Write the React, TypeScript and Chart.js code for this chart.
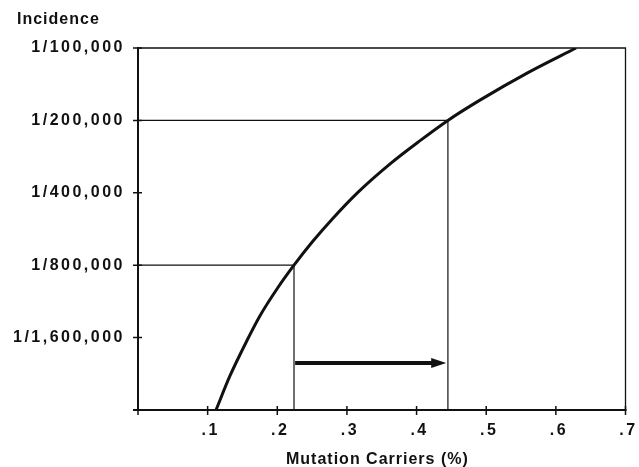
import React, { useEffect, useRef } from "react";
import { Chart, registerables } from "chart.js";

Chart.register(...registerables);

// Curve: mutation carriers (%) vs incidence
const carriers = [0.112, 0.132, 0.157, 0.175, 0.2, 0.224, 0.251, 0.28, 0.315, 0.362, 0.405, 0.445, 0.491, 0.56, 0.629];
const incidence = [3.125e-7, 4.33e-7, 6.12e-7, 7.69e-7, 1.0e-6, 1.25e-6, 1.571e-6, 1.961e-6, 2.5e-6, 3.3e-6, 4.12e-6, 5e-6, 6.07e-6, 7.9e-6, 1e-5];

// Axis ticks
const yTickValues = [1e-5, 5e-6, 2.5e-6, 1.25e-6, 6.25e-7, 3.125e-7];
const yTickLabels = ["1/100,000", "1/200,000", "1/400,000", "1/800,000", "1/1,600,000", ""];
const xTickValues = [0, 0.1, 0.2, 0.3, 0.4, 0.5, 0.6, 0.7];
const xTickLabels = ["", ".1", ".2", ".3", ".4", ".5", ".6", ".7"];
const yMin = 3.125e-7;
const yMax = 1e-5;
const xMin = 0;
const xMax = 0.7;

// Guide lines
const lowCarrier = 0.224;
const lowIncidence = 1.25e-6;
const highCarrier = 0.445;
const highIncidence = 5e-6;

// Arrow
const arrowFrom = 0.2256;
const arrowTo = 0.4425;
const arrowLevel = 4.9e-7;

const yTitle = "Incidence";
const xTitle = "Mutation Carriers (%)";

const FONT = '"Liberation Sans", Arial, Helvetica, sans-serif';
const INK = "#111";

const decor = {
  id: "decor",
  beforeDraw(chart: any) {
    (chart.ctx as any).letterSpacing = "2.5px";
  },
  afterDraw(chart: any) {
    const ctx = chart.ctx;
    const { left, right, top, bottom } = chart.chartArea;
    const xs = chart.scales.x;
    const ys = chart.scales.y;
    ctx.save();
    ctx.strokeStyle = INK;
    ctx.fillStyle = INK;
    // thin top / right frame
    ctx.lineWidth = 1.3;
    ctx.beginPath();
    ctx.moveTo(left, top);
    ctx.lineTo(right, top);
    ctx.lineTo(right, bottom);
    ctx.stroke();
    // thick axes
    ctx.lineWidth = 2;
    ctx.beginPath();
    ctx.moveTo(left, top - 1);
    ctx.lineTo(left, bottom);
    ctx.moveTo(left - 5, bottom);
    ctx.lineTo(right + 1, bottom);
    ctx.stroke();
    // tick marks crossing the axes
    ctx.lineWidth = 1.5;
    ctx.beginPath();
    yTickValues.forEach((v) => {
      const py = ys.getPixelForValue(v);
      ctx.moveTo(left - 5, py);
      ctx.lineTo(left + 4, py);
    });
    xTickValues.forEach((v) => {
      const px = xs.getPixelForValue(v);
      ctx.moveTo(px, bottom - 4);
      ctx.lineTo(px, bottom + 5);
    });
    ctx.stroke();
    // arrow
    const ax0 = xs.getPixelForValue(arrowFrom);
    const ax1 = xs.getPixelForValue(arrowTo);
    const ay = ys.getPixelForValue(arrowLevel);
    ctx.lineWidth = 4;
    ctx.beginPath();
    ctx.moveTo(ax0, ay);
    ctx.lineTo(ax1 - 12, ay);
    ctx.stroke();
    ctx.beginPath();
    ctx.moveTo(ax1, ay);
    ctx.lineTo(ax1 - 15, ay - 5);
    ctx.lineTo(ax1 - 15, ay + 5);
    ctx.closePath();
    ctx.fill();
    // titles
    (ctx as any).letterSpacing = "1px";
    ctx.font = `bold 16px ${FONT}`;
    ctx.textBaseline = "alphabetic";
    ctx.textAlign = "left";
    ctx.fillText(yTitle, 17, 24);
    ctx.fillText(xTitle, 286, 464);
    ctx.restore();
  },
};

export default function App() {
  const ref = useRef<HTMLCanvasElement | null>(null);

  useEffect(() => {
    if (!ref.current) return;
    const chart = new Chart(ref.current, {
      type: "line",
      data: {
        datasets: [
          {
            data: carriers.map((c, i) => ({ x: c, y: incidence[i] })),
            borderColor: INK,
            borderWidth: 3,
            pointRadius: 0,
            cubicInterpolationMode: "monotone",
            fill: false,
          },
          {
            data: [
              { x: xMin, y: lowIncidence },
              { x: lowCarrier, y: lowIncidence },
              { x: lowCarrier, y: yMin },
            ],
            borderColor: INK,
            borderWidth: 1.2,
            pointRadius: 0,
            tension: 0,
          },
          {
            data: [
              { x: xMin, y: highIncidence },
              { x: highCarrier, y: highIncidence },
              { x: highCarrier, y: yMin },
            ],
            borderColor: INK,
            borderWidth: 1.2,
            pointRadius: 0,
            tension: 0,
          },
        ],
      },
      options: {
        animation: false,
        responsive: false,
        devicePixelRatio: 1,
        layout: { padding: { top: 48, right: 13.5, left: 0, bottom: 0 } },
        plugins: { legend: { display: false }, tooltip: { enabled: false }, title: { display: false } },
        scales: {
          x: {
            type: "linear",
            min: xMin,
            max: xMax,
            grid: { display: false, drawTicks: false },
            border: { display: false },
            afterBuildTicks: (s: any) => {
              s.ticks = xTickValues.map((v) => ({ value: v }));
            },
            afterFit: (s: any) => {
              s.height = 57;
              s.paddingLeft = 0;
              s.paddingRight = 0;
            },
            ticks: {
              autoSkip: false,
              maxRotation: 0,
              padding: 11,
              labelOffset: 3,
              color: INK,
              font: { family: FONT, size: 16, weight: "bold" },
              callback: (_v: any, i: number) => xTickLabels[i],
            },
          },
          y: {
            type: "logarithmic",
            min: yMin,
            max: yMax,
            grid: { display: false, drawTicks: false },
            border: { display: false },
            afterBuildTicks: (s: any) => {
              s.ticks = yTickValues.map((v) => ({ value: v }));
            },
            afterFit: (s: any) => {
              s.width = 138;
              s.paddingTop = 0;
              s.paddingBottom = 0;
            },
            ticks: {
              autoSkip: false,
              padding: 13,
              color: INK,
              font: { family: FONT, size: 16, weight: "bold" },
              callback: (_v: any, i: number) => yTickLabels[i],
            },
          },
        },
      },
      plugins: [decor],
    });
    return () => chart.destroy();
  }, []);

  return (
    <div style={{ position: "absolute", left: 0, top: 0, width: 639, height: 467, background: "#fff" }}>
      <canvas ref={ref} width={639} height={467} style={{ display: "block" }} />
    </div>
  );
}
